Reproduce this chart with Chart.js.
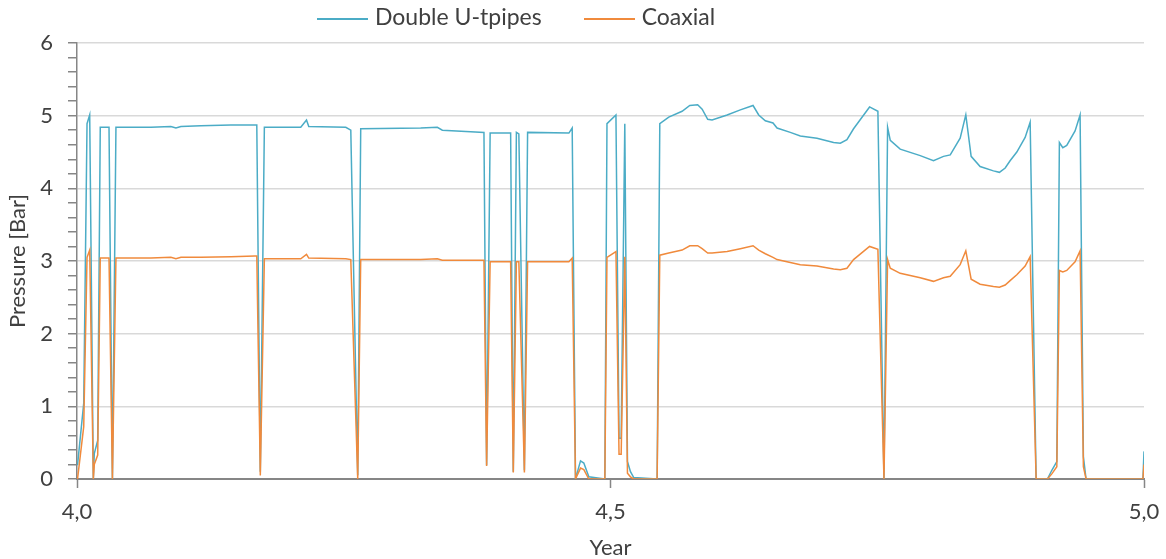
<!DOCTYPE html>
<html>
<head>
<meta charset="utf-8">
<script src="https://cdn.jsdelivr.net/npm/chart.js@4.4.1/dist/chart.umd.min.js"></script>
<style>
  body { margin: 0; background: #fff; }
  #wrap { position: relative; width: 1166px; height: 559px; }
  #legend { position: absolute; top: 2px; left: 317px; font: 23px Lato, sans-serif; color: #404040; white-space: nowrap; }
  #legend .item { display: inline-block; margin-right: 42px; }
  #legend .line { display: inline-block; width: 51px; height: 2px; vertical-align: middle; margin-right: 7px; }
</style>
</head>
<body>
<div id="wrap">
  <canvas id="chart" width="1166" height="559"></canvas>
  <div id="legend"></div>
</div>
<script>
// time in years
var years = [4.0005, 4.0063, 4.0094, 4.0119, 4.0153, 4.0162, 4.0194, 4.0218, 4.0300, 4.0332,
  4.0365, 4.0693, 4.0880, 4.0927, 4.0974, 4.1161, 4.1442, 4.1667, 4.1685, 4.1718,
  4.1756, 4.2097, 4.2151, 4.2172, 4.2519, 4.2566, 4.2631, 4.2659, 4.3221, 4.3377,
  4.3424, 4.3689, 4.3814, 4.3839, 4.3872, 4.4064, 4.4089, 4.4118, 4.4141, 4.4193,
  4.4223, 4.4610, 4.4641, 4.4672, 4.4719, 4.4750, 4.4797, 4.4947, 4.4967, 4.5051,
  4.5080, 4.5100, 4.5134, 4.5159, 4.5187, 4.5218, 4.5437, 4.5462, 4.5546, 4.5671,
  4.5743, 4.5817, 4.5859, 4.5911, 4.5952, 4.6093, 4.6217, 4.6336, 4.6389, 4.6451,
  4.6523, 4.6561, 4.6685, 4.6779, 4.6935, 4.7091, 4.7154, 4.7216, 4.7278, 4.7428,
  4.7506, 4.7563, 4.7597, 4.7622, 4.7715, 4.7903, 4.8027, 4.8121, 4.8184, 4.8277,
  4.8330, 4.8380, 4.8464, 4.8589, 4.8645, 4.8699, 4.8745, 4.8808, 4.8886, 4.8933,
  4.8989, 4.9095, 4.9136, 4.9183, 4.9207, 4.9239, 4.9276, 4.9354, 4.9401, 4.9432,
  4.9457, 4.9990, 5.0000];

// pressure [bar]
var doubleU = [0.19, 1.04, 4.89, 5.01, 0.00, 0.35, 0.53, 4.84, 4.84, 0.00,
  4.84, 4.84, 4.85, 4.83, 4.85, 4.86, 4.87, 4.87, 4.87, 0.10,
  4.84, 4.84, 4.94, 4.85, 4.84, 4.80, 0.05, 4.82, 4.83, 4.84,
  4.80, 4.78, 4.77, 0.19, 4.76, 4.76, 0.10, 4.77, 4.75, 0.12,
  4.77, 4.76, 4.83, 0.00, 0.25, 0.22, 0.03, 0.00, 4.89, 5.01,
  0.56, 0.56, 4.89, 0.24, 0.10, 0.02, 0.00, 4.89, 4.98, 5.06,
  5.14, 5.15, 5.09, 4.95, 4.94, 5.01, 5.08, 5.14, 5.01, 4.93,
  4.90, 4.83, 4.77, 4.72, 4.69, 4.63, 4.62, 4.67, 4.82, 5.12,
  5.06, 0.00, 4.84, 4.66, 4.54, 4.45, 4.38, 4.44, 4.46, 4.69,
  5.01, 4.44, 4.30, 4.24, 4.22, 4.28, 4.38, 4.50, 4.70, 4.91,
  0.00, 0.00, 0.12, 0.24, 4.63, 4.56, 4.59, 4.79, 5.01, 0.31,
  0.00, 0.00, 0.38];

var coaxial = [0.00, 0.72, 3.05, 3.15, 0.00, 0.20, 0.33, 3.04, 3.04, 0.00,
  3.04, 3.04, 3.05, 3.03, 3.05, 3.05, 3.06, 3.07, 3.07, 0.05,
  3.03, 3.03, 3.09, 3.04, 3.03, 3.02, 0.00, 3.02, 3.02, 3.03,
  3.01, 3.01, 3.01, 0.18, 2.99, 2.99, 0.09, 2.99, 2.99, 0.09,
  2.99, 2.99, 3.04, 0.00, 0.15, 0.13, 0.00, 0.00, 3.05, 3.13,
  0.34, 0.34, 3.06, 0.08, 0.03, 0.00, 0.00, 3.08, 3.11, 3.15,
  3.21, 3.21, 3.17, 3.11, 3.11, 3.13, 3.17, 3.21, 3.15, 3.10,
  3.05, 3.02, 2.98, 2.95, 2.93, 2.89, 2.88, 2.90, 3.02, 3.20,
  3.16, 0.00, 3.02, 2.90, 2.83, 2.77, 2.72, 2.77, 2.79, 2.95,
  3.14, 2.75, 2.68, 2.65, 2.64, 2.67, 2.73, 2.81, 2.93, 3.06,
  0.00, 0.00, 0.07, 0.17, 2.87, 2.85, 2.87, 2.99, 3.14, 0.17,
  0.00, 0.00, 0.20];

var seriesNames = ['Double U-tpipes', 'Coaxial'];

function pts(vals) {
  return years.map(function(x, i) { return {x: x, y: vals[i]}; });
}

var axisGray = '#868686';
var textColor = '#404040';
var font = {family: 'Lato', size: 22};

function isMajor(v) {
  return Math.abs(v - Math.round(v)) < 1e-6;
}

var ctx = document.getElementById('chart').getContext('2d');
var chart = new Chart(ctx, {
  type: 'line',
  data: {
    datasets: [
      {
        label: seriesNames[0],
        data: pts(doubleU),
        borderColor: '#4BACC6',
        borderWidth: 1.5,
        pointRadius: 0,
        tension: 0,
        order: 1
      },
      {
        label: seriesNames[1],
        data: pts(coaxial),
        borderColor: '#F08A3C',
        borderWidth: 1.5,
        pointRadius: 0,
        tension: 0,
        order: 0
      }
    ]
  },
  options: {
    responsive: false,
    animation: false,
    layout: { padding: { top: 43, right: 22, left: 0, bottom: 0 } },
    plugins: {
      legend: { display: false },
      tooltip: { enabled: false }
    },
    scales: {
      x: {
        type: 'linear',
        min: 4,
        max: 5,
        afterFit: function(s) { s.height = 80; s.paddingRight = 0; },
        border: { color: axisGray, width: 2 },
        grid: { drawOnChartArea: false, tickLength: 9, color: axisGray, tickWidth: 1.5 },
        ticks: {
          stepSize: 0.5,
          padding: 11,
          color: textColor,
          font: font,
          maxRotation: 0,
          callback: function(v) { return v.toFixed(1).replace('.', ','); }
        },
        title: {
          display: true,
          text: 'Year',
          color: textColor,
          font: {family: 'Lato', size: 22, lineHeight: 1},
          padding: {top: 0, bottom: 0}
        }
      },
      y: {
        min: 0,
        max: 6,
        afterFit: function(s) { s.width = 77; },
        border: { color: axisGray, width: 1.5 },
        grid: {
          tickLength: 9,
          color: function(c) { return (c.tick && isMajor(c.tick.value) && c.tick.value > 0) ? '#D9D9D9' : 'rgba(0,0,0,0)'; },
          tickColor: axisGray,
          lineWidth: 1.5
        },
        ticks: {
          stepSize: 0.2,
          autoSkip: false,
          padding: 15,
          color: textColor,
          font: font,
          callback: function(v) { return isMajor(v) ? String(Math.round(v)) : ''; }
        },
        title: {
          display: true,
          text: 'Pressure [Bar]',
          color: textColor,
          font: font,
          padding: {top: 5, bottom: 0}
        }
      }
    }
  }
});

// legend built from the chart's datasets
var legend = document.getElementById('legend');
chart.data.datasets.forEach(function(ds) {
  var item = document.createElement('span');
  item.className = 'item';
  var line = document.createElement('span');
  line.className = 'line';
  line.style.background = ds.borderColor;
  item.appendChild(line);
  item.appendChild(document.createTextNode(ds.label));
  legend.appendChild(item);
});
</script>
</body>
</html>
